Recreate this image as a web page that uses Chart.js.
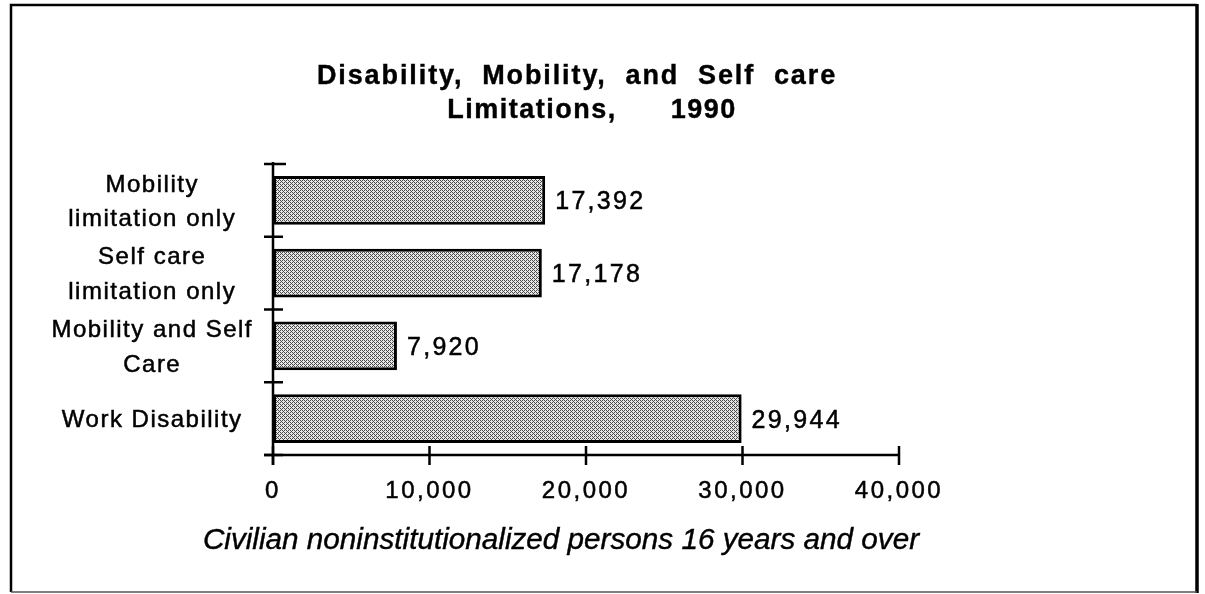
<!DOCTYPE html>
<html><head><meta charset="utf-8">
<script src="https://cdn.jsdelivr.net/npm/chart.js@4"></script>
<style>html,body{margin:0;padding:0;background:#fff;overflow:hidden}#wrap{width:1205px;height:594px;position:relative}</style>
</head><body><div id="wrap"><canvas id="c" width="1205" height="594"></canvas></div>
<script>
const categories = [["Mobility","limitation only"],["Self care","limitation only"],["Mobility and Self","Care"],["Work Disability"]];
const values = [17392, 17178, 7920, 29944];
const xTicks = [0, 10000, 20000, 30000, 40000];
const titleLines = ["Disability,  Mobility,  and  Self  care", "Limitations,      1990"];
const subtitleText = "Civilian noninstitutionalized persons 16 years and over";

const FONT = '"Liberation Sans", Arial, Helvetica, sans-serif';
const fmt = v => Number(v).toLocaleString('en-US');

// stipple fill for the bars
function makePattern(ctx) {
  const p = document.createElement('canvas');
  p.width = 4; p.height = 4;
  const pc = p.getContext('2d');
  pc.fillStyle = '#e6e6e6'; pc.fillRect(0, 0, 4, 4);
  pc.fillStyle = '#4a4a4a';
  [[0,0],[2,0],[1,1],[0,2],[2,2],[3,3]].forEach(([x,y]) => pc.fillRect(x, y, 1, 1));
  return ctx.createPattern(p, 'repeat');
}

function heavyText(c, txt, x, y, w) {
  c.lineWidth = w;
  c.strokeStyle = '#000';
  c.strokeText(txt, x, y);
  c.fillText(txt, x, y);
}

const canvas = document.getElementById('c');
const ctx0 = canvas.getContext('2d');

const decor = {
  id: 'decor',
  beforeUpdate(chart) { chart.ctx.letterSpacing = '1.5px'; },
  beforeDraw(chart) {
    const c = chart.ctx;
    c.save();
    c.fillStyle = '#fff';
    c.fillRect(0, 0, chart.width, chart.height);
    c.restore();
    c.letterSpacing = '1.5px';
  },
  afterDatasetsDraw(chart) {
    const c = chart.ctx;
    const xs = chart.scales.x, ys = chart.scales.y;
    const area = chart.chartArea;
    const x0 = xs.getPixelForValue(0);
    c.save();
    c.strokeStyle = '#000';
    c.lineCap = 'butt';
    c.lineWidth = 2.5;
    // y axis line
    c.beginPath();
    c.moveTo(x0, area.top - 2);
    c.lineTo(x0, area.bottom + 10);
    c.stroke();
    // x axis line
    c.beginPath();
    c.moveTo(x0 - 9, area.bottom);
    c.lineTo(xs.getPixelForValue(xTicks[xTicks.length - 1]) + 1, area.bottom);
    c.stroke();
    // x ticks (crossing the axis)
    xs.ticks.forEach(t => {
      const px = xs.getPixelForValue(t.value);
      c.beginPath();
      c.moveTo(px, area.bottom - 9);
      c.lineTo(px, area.bottom + 10);
      c.stroke();
    });
    // y ticks at category boundaries
    for (let i = 0; i <= categories.length; i++) {
      const py = ys.getPixelForValue(i - 0.5);
      c.beginPath();
      c.moveTo(x0 - 9, py);
      c.lineTo(x0 + (i === 0 ? 13 : 10), py);
      c.stroke();
    }
    // value labels
    c.fillStyle = '#000';
    c.font = '25px ' + FONT;
    c.letterSpacing = '2.3px';
    c.textAlign = 'left';
    c.textBaseline = 'middle';
    const meta = chart.getDatasetMeta(0);
    meta.data.forEach((bar, i) => {
      heavyText(c, fmt(chart.data.datasets[0].data[i]), bar.x + 10, bar.y + 2, 0.5);
    });
    c.restore();
    // spacing used by the x-axis tick labels (drawn after datasets, z = 1)
    c.letterSpacing = '2.5px';
  },
  afterDraw(chart) {
    const c = chart.ctx;
    c.save();
    c.fillStyle = '#000';
    // title
    c.font = 'bold 27px ' + FONT;
    c.letterSpacing = '1.9px';
    c.textAlign = 'center';
    c.textBaseline = 'alphabetic';
    heavyText(c, titleLines[0], 577, 84, 0.4);
    c.letterSpacing = '1.5px';
    heavyText(c, titleLines[1], 592, 118, 0.4);
    // subtitle
    c.font = 'italic 29.7px ' + FONT;
    c.letterSpacing = '0px';
    heavyText(c, subtitleText, 561, 549, 0.4);
    // frame
    c.strokeStyle = '#000';
    c.lineWidth = 2.5;
    c.beginPath();
    c.moveTo(11, 592); c.lineTo(11, 5); c.lineTo(1197, 5);
    c.stroke();
    c.lineWidth = 3.5;
    c.beginPath();
    c.moveTo(1197, 4); c.lineTo(1197, 593);
    c.stroke();
    c.strokeStyle = '#555';
    c.lineWidth = 1.5;
    c.beginPath();
    c.moveTo(11, 592); c.lineTo(1197, 592);
    c.stroke();
    c.restore();
  }
};

new Chart(canvas, {
  type: 'bar',
  data: {
    labels: categories,
    datasets: [{
      data: values,
      backgroundColor: makePattern(ctx0),
      borderColor: '#000',
      borderWidth: 3,
      borderSkipped: false,
      barPercentage: 0.67,
      categoryPercentage: 1
    }]
  },
  options: {
    indexAxis: 'y',
    responsive: false,
    animation: false,
    devicePixelRatio: 1,
    layout: { padding: { left: 43, right: 306, top: 164, bottom: 79 } },
    plugins: { legend: { display: false }, tooltip: { enabled: false }, title: { display: false } },
    scales: {
      x: {
        type: 'linear',
        min: xTicks[0],
        max: xTicks[xTicks.length - 1],
        afterBuildTicks: s => { s.ticks = xTicks.map(v => ({ value: v })); },
        afterFit: s => { s.height = 60; },
        grid: { display: false, drawTicks: false },
        border: { display: false },
        ticks: {
          z: 1,
          color: '#000',
          font: { family: FONT, size: 24 },
          padding: 22,
          maxRotation: 0,
          textStrokeColor: '#000',
          textStrokeWidth: 0.5,
          callback: v => fmt(v)
        }
      },
      y: {
        type: 'category',
        afterFit: s => { s.width = 230; },
        grid: { display: false, drawTicks: false, offset: true },
        border: { display: false },
        ticks: {
          color: '#000',
          font: { family: FONT, size: 24, lineHeight: 1.45 },
          crossAlign: 'center',
          padding: 20,
          labelOffset: 2,
          textStrokeColor: '#000',
          textStrokeWidth: 0.5,
          autoSkip: false
        }
      }
    }
  },
  plugins: [decor]
});
</script>
</body></html>
